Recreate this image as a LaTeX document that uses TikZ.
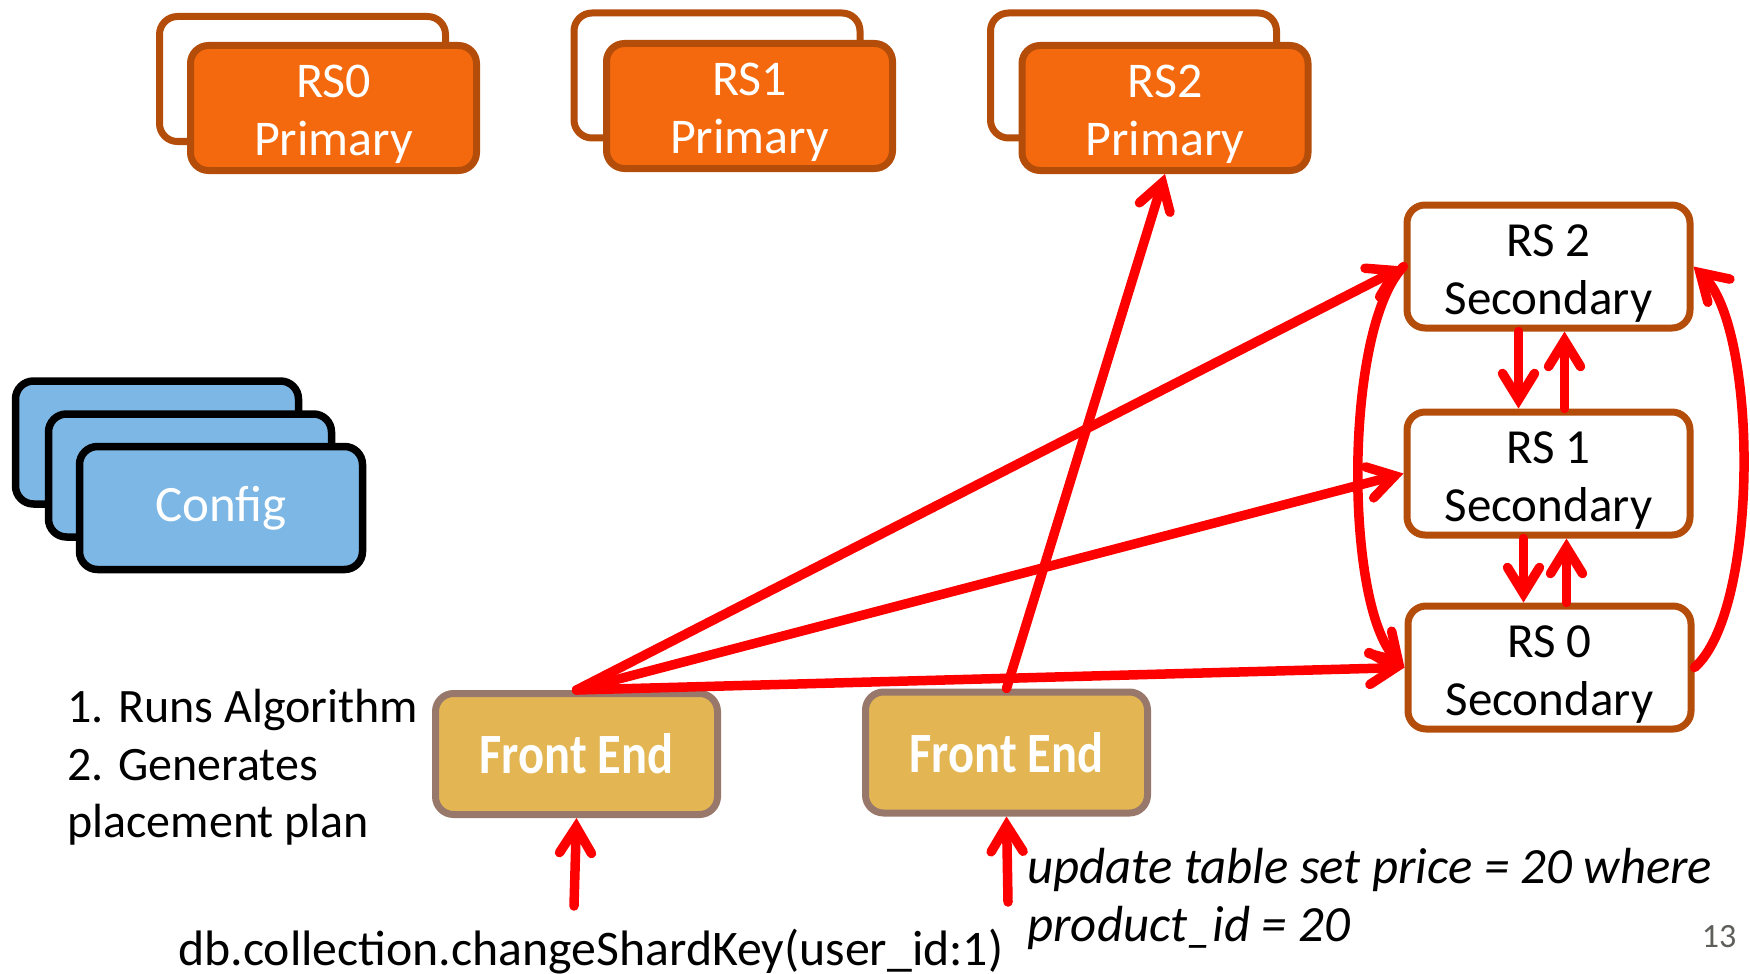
\documentclass[tikz,border=0pt]{standalone}
\usepackage{fontspec}
\setmainfont{Carlito}
\newfontfamily\condfont[FakeStretch=0.85]{Carlito}
\usetikzlibrary{arrows.meta}

\definecolor{rsbrown}{HTML}{B44C0A}
\definecolor{primorange}{HTML}{F4690D}
\definecolor{cfgblue}{HTML}{7DB7E5}
\definecolor{fegold}{HTML}{E3B653}
\definecolor{fegray}{HTML}{98786B}
\definecolor{pagegray}{HTML}{5E5E5A}

% strut that lowers two-line box labels a little
\newcommand{\toplift}{\rule{0pt}{22.5pt}}

\tikzset{
  box/.style={rounded corners=9pt, inner sep=0pt, align=center},
  primback/.style={box, draw=rsbrown, fill=white, line width=3.5pt,
    minimum width=143pt, minimum height=62.5pt},
  primfront/.style={primback, fill=primorange, text=white,
    font=\fontsize{25}{29}\selectfont},
  cfgbox/.style={box, draw=black, fill=cfgblue, line width=3.75pt,
    minimum width=141.5pt, minimum height=61.5pt, text=white,
    font=\fontsize{25.5}{30}\selectfont},
  secbox/.style={box, draw=rsbrown, fill=white, line width=3.5pt,
    minimum width=141.5pt, minimum height=61.5pt,
    font=\fontsize{24.5}{29}\selectfont},
  febox/.style={box, draw=fegray, fill=fegold, line width=3.5pt,
    minimum width=141pt, minimum height=60.5pt, text=white,
    font=\condfont\bfseries\fontsize{28.5}{30}\selectfont},
  lbl/.style={inner sep=0pt, anchor=base west, font=\fontsize{24}{29}\selectfont},
  arr/.style={draw=red, line width=4.75pt, line cap=round,
    -{Straight Barb[length=13pt,width=16pt,line cap=round]}},
}

\begin{document}
\begin{tikzpicture}[x=0.5pt, y=-0.5pt]
\useasboundingbox (0,0) rectangle (1750,974);

% primaries (shadow copy behind each)
\node[primback] (rs0pb) at (302.5,79) {};
\node[primfront] (rs0p) at (333.5,108) {\toplift RS0\\Primary};
\node[primback] (rs1pb) at (717,75.5) {};
\node[primfront] (rs1p) at (749.5,106) {\toplift RS1\\Primary};
\node[primback] (rs2pb) at (1133.5,75.5) {};
\node[primfront] (rs2p) at (1165,108) {\toplift RS2\\Primary};

% config servers
\node[cfgbox] (cfg3) at (157,442.5) {};
\node[cfgbox] (cfg2) at (190,475.5) {};
\node[cfgbox] (cfg1) at (221,508) {\raisebox{-2.2pt}{Config}};

% secondaries
\node[secbox] (rs2s) at (1548.5,266.5) {\toplift RS 2\\Secondary};
\node[secbox] (rs1s) at (1548.5,473.5) {\toplift RS 1\\Secondary};
\node[secbox] (rs0s) at (1549.5,667.5) {\toplift RS 0\\Secondary};

% front ends
\node[febox] (fe1) at (576.5,754) {Front End};
\node[febox] (fe2) at (1006.5,752.5) {Front End};

% labels
\node[lbl] (l1) at (67,722) {1. Runs Algorithm};
\node[lbl] (l2) at (67,780) {2. Generates};
\node[lbl] (l3) at (67,837) {placement plan};
\node[lbl, font=\fontsize{24.9}{29}\selectfont] (cmd) at (178,965) {db.collection.changeShardKey(user\_id:1)};
\node[lbl, font=\itshape\fontsize{25.4}{29}\selectfont] (q1) at (1027,883) {update table set price = 20 where};
\node[lbl, font=\itshape\fontsize{25.4}{29}\selectfont] (q2) at (1027,941) {product\_id = 20};
\node[inner sep=0pt, text=pagegray, font=\fontsize{17}{20}\selectfont] (pg) at (1719,937) {13};

\coordinate (in1) at (574,906);
\coordinate (in2) at (1008,902);

% connectors
\draw[arr] (in1) -- (fe1.south);
\draw[arr] (in2) -- (fe2.south);
\draw[arr] (fe1.north) -- (rs2s.west);
\draw[arr] (fe1.north) -- (rs1s.west);
\draw[arr] (fe1.north) -- (rs0s.west);
\draw[arr] (fe2.north) -- (rs2p.south);

\draw[arr] ([xshift=-15pt]rs2s.south) -- ([xshift=-15pt]rs1s.north);
\draw[arr] ([xshift=8pt]rs1s.north) -- ([xshift=8pt]rs2s.south);
\draw[arr] ([xshift=-12.5pt]rs1s.south) -- ([xshift=-13pt]rs0s.north);
\draw[arr] ([xshift=8.5pt]rs0s.north) -- ([xshift=9pt]rs1s.south);

\draw[arr] (rs2s.west) .. controls +(-60,62) and +(-60,-62) .. (rs0s.west);
\draw[arr] (rs0s.east) .. controls +(65,-57) and +(65,62) .. (rs2s.east);
\end{tikzpicture}
\end{document}
